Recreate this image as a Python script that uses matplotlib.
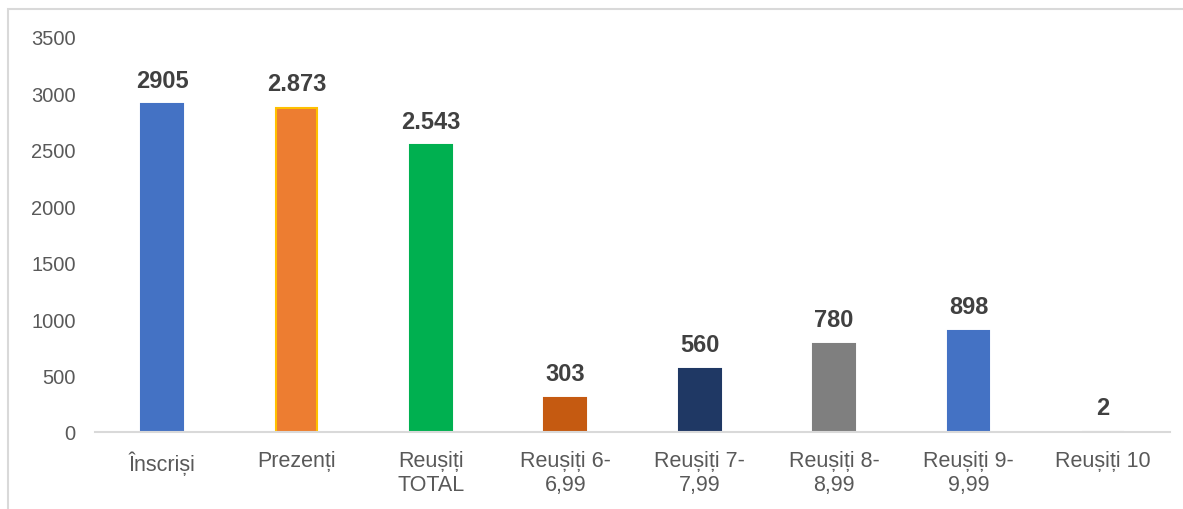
import matplotlib
matplotlib.use("Agg")
import matplotlib.pyplot as plt
from matplotlib.patches import Rectangle

plt.rcParams['font.family'] = ['Liberation Sans', 'DejaVu Sans']

categorii = ["Înscriși", "Prezenți", "Reușiți\nTOTAL", "Reușiți 6-\n6,99",
             "Reușiți 7-\n7,99", "Reușiți 8-\n8,99", "Reușiți 9-\n9,99", "Reușiți 10"]
valori = [2905, 2873, 2543, 303, 560, 780, 898, 2]
etichete = ["2905", "2.873", "2.543", "303", "560", "780", "898", "2"]
culori = ["#4472C4", "#ED7D31", "#00B050", "#C55A11", "#1F3864", "#7F7F7F", "#4472C4", "#A5A5A5"]
contur = ["#4472C4", "#FFC000", "#00B050", "#C55A11", "#1F3864", "#7F7F7F", "#4472C4", "#A5A5A5"]

fig = plt.figure(figsize=(11.83, 5.10), dpi=100)
ax = fig.add_axes([95 / 1183, 1 - 433 / 510, 1075 / 1183, 395 / 510])

x = range(len(categorii))
bare = ax.bar(x, valori, width=0.31, color=culori, edgecolor=contur, linewidth=1.5)

for bara, text in zip(bare, etichete):
    ax.annotate(text, (bara.get_x() + bara.get_width() / 2, bara.get_height()),
                xytext=(0, 9), textcoords="offset points", ha="center", va="bottom",
                fontsize=17, fontweight="bold", color="#404040")

ax.set_xlim(-0.5, len(categorii) - 0.5)
ax.set_ylim(0, 3500)
ax.set_yticks(range(0, 3501, 500))
ax.set_xticks(list(x))
ax.set_xticklabels(categorii, fontsize=15.5, color="#595959", linespacing=1.2)
ax.tick_params(axis="y", labelsize=14.5, labelcolor="#595959", length=0, pad=14)
ax.tick_params(axis="x", length=0, pad=13)

for s in ["top", "right", "left"]:
    ax.spines[s].set_visible(False)
ax.spines["bottom"].set_color("#D9D9D9")
ax.spines["bottom"].set_linewidth(1.5)

# chenarul graficului
fig.add_artist(Rectangle((8 / 1183, -0.1), 1.2, 1 - 10 / 510 + 0.1,
                         transform=fig.transFigure, fill=False,
                         edgecolor="#D9D9D9", linewidth=1.5))

fig.savefig("out.png", dpi=100)
